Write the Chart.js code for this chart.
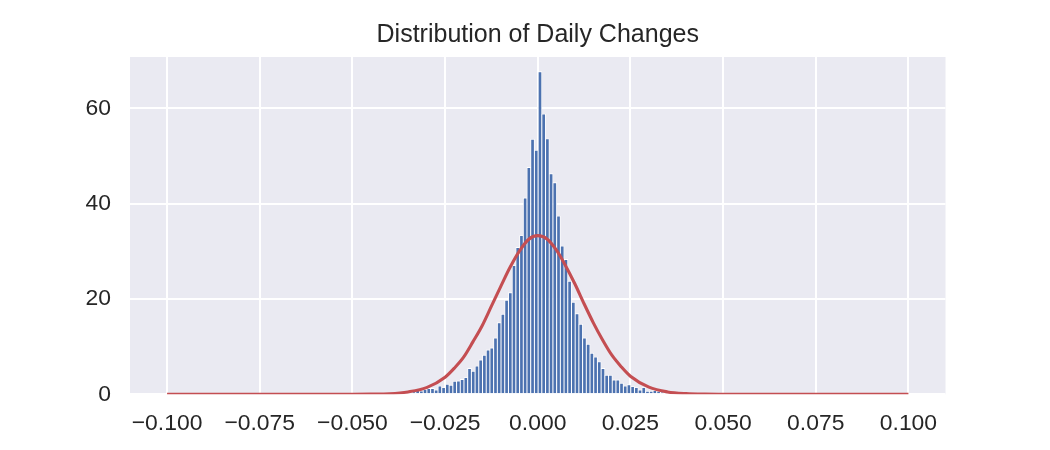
<!DOCTYPE html>
<html>
<head>
<meta charset="utf-8">
<script src="https://cdn.jsdelivr.net/npm/chart.js@4.4.0/dist/chart.umd.min.js"></script>
<style>
html,body{margin:0;padding:0;background:#ffffff;}
#wrap{width:1050px;height:450px;position:relative;}
</style>
</head>
<body>
<div id="wrap"><canvas id="c" width="1050" height="450"></canvas></div>
<script>
const chartTitle = "Distribution of Daily Changes";

// histogram bin centers (bin width 0.001) and density heights
const binCenters = [
  -0.0474,-0.0464,-0.0454,-0.0444,-0.0434,-0.0424,-0.0414,-0.0404,-0.0394,-0.0384,
  -0.0374,-0.0364,-0.0354,-0.0344,-0.0334,-0.0324,-0.0314,-0.0304,-0.0294,-0.0284,
  -0.0274,-0.0264,-0.0254,-0.0244,-0.0234,-0.0224,-0.0214,-0.0204,-0.0194,-0.0184,
  -0.0174,-0.0164,-0.0154,-0.0144,-0.0134,-0.0124,-0.0114,-0.0104,-0.0094,-0.0084,
  -0.0074,-0.0064,-0.0054,-0.0044,-0.0034,-0.0024,-0.0014,-0.0004,
  0.0006,0.0016,0.0026,0.0036,0.0046,0.0056,0.0066,0.0076,0.0086,0.0096,
  0.0106,0.0116,0.0126,0.0136,0.0146,0.0156,0.0166,0.0176,0.0186,0.0196,
  0.0206,0.0216,0.0226,0.0236,0.0246,0.0256,0.0266,0.0276,0.0286,0.0296,
  0.0306,0.0316,0.0326,0.0336,0.0346,0.0356,0.0366,0.0376,0.0386,0.0396,
  0.0406,0.0416,0.0426,0.0436,0.0446,0.0456,0.0466
];
const binDensity = [
  0.3,0,0,0,0,0,0,0.3,0.3,0,
  0.3,0.5,0.3,0.5,0.6,0.9,0.8,1.1,1.3,1.3,
  1.0,1.8,1.5,2.2,2.0,2.8,2.9,3.2,3.6,5.5,
  4.9,6.0,7.3,8.3,9.4,9.8,11.9,15.1,16.9,19.8,
  21.4,27.1,30.9,33.4,41.3,47.7,53.6,51.3,
  67.8,58.9,53.7,46.4,44.5,37.5,31.2,28.4,23.8,19.4,
  17.0,14.8,11.9,10.6,8.7,7.9,6.9,5.5,4.1,4.1,
  3.1,3.1,2.4,1.8,2.1,1.7,1.5,1.0,1.5,0.7,
  0.7,0.9,0.7,0.5,0.4,0.3,0.3,0.3,0,0,
  0,0,0,0,0.3,0,0.3
];

// fitted normal curve
const curveX = [-0.1,-0.08,-0.06,-0.05,-0.045,-0.04,-0.035,-0.03,-0.025,-0.0225,-0.02,-0.0175,-0.015,-0.0125,-0.01,-0.0075,-0.005,-0.0025,0,
                0.0025,0.005,0.0075,0.01,0.0125,0.015,0.0175,0.02,0.0225,0.025,0.03,0.035,0.04,0.045,0.05,0.06,0.08,0.1];
const curveY = [0,0,0,0.01,0.04,0.12,0.5,1.4,3.6,5.5,7.8,11.0,14.4,18.5,22.6,26.6,30.0,32.5,33.3,
                32.6,30.3,27.0,23.2,19.0,15.0,11.4,8.2,5.8,3.8,1.5,0.5,0.14,0.03,0.01,0,0,0];

const xTickValues = [-0.1,-0.075,-0.05,-0.025,0,0.025,0.05,0.075,0.1];
const yTickValues = [0,20,40,60];

const FONT = "'Liberation Sans', Arial, 'DejaVu Sans', sans-serif";
const TEXT = '#262626';

const histPoints = binCenters.map((x, i) => ({x: x, y: binDensity[i]}));
const curvePoints = curveX.map((x, i) => ({x: x, y: curveY[i]}));

const bgPlugin = {
  id: 'bg',
  beforeDraw(chart) {
    const {ctx, chartArea: a} = chart;
    ctx.save();
    ctx.fillStyle = '#EAEAF2';
    ctx.fillRect(a.left, a.top, a.right - a.left, a.bottom - a.top);
    ctx.restore();
  },
  afterDraw(chart) {
    const {ctx, chartArea: a} = chart;
    ctx.save();
    ctx.fillStyle = TEXT;
    ctx.font = "25px " + FONT;
    ctx.textAlign = 'center';
    ctx.textBaseline = 'middle';
    ctx.fillText(chartTitle, (a.left + a.right) / 2, 35);
    ctx.restore();
  }
};

new Chart(document.getElementById('c'), {
  type: 'bar',
  data: {
    datasets: [
      {
        type: 'line',
        data: curvePoints,
        borderColor: '#C44E52',
        borderWidth: 3.1,
        pointRadius: 0,
        fill: false,
        cubicInterpolationMode: 'monotone',
        order: 0
      },
      {
        type: 'bar',
        data: histPoints,
        backgroundColor: '#4C72B0',
        borderColor: '#ffffff',
        borderWidth: 0.9,
        borderSkipped: 'start',
        barPercentage: 1.2,
        categoryPercentage: 1.0,
        order: 1
      }
    ]
  },
  options: {
    responsive: false,
    animation: false,
    devicePixelRatio: 1,
    layout: {padding: {left: 0, right: 104.5, top: 57, bottom: 0}},
    plugins: {legend: {display: false}, tooltip: {enabled: false}, title: {display: false}},
    scales: {
      x: {
        type: 'linear',
        offset: false,
        min: -0.11,
        max: 0.11,
        afterBuildTicks: (s) => { s.ticks = xTickValues.map(v => ({value: v})); },
        afterFit: (s) => { s.height = 55.7; },
        grid: {color: '#ffffff', lineWidth: 2, drawTicks: false, offset: false},
        border: {display: false},
        ticks: {
          padding: 16,
          color: TEXT,
          font: {family: FONT, size: 22.9},
          maxRotation: 0,
          autoSkip: false,
          callback: (v) => (v < 0 ? '\u2212' : '') + Math.abs(v).toFixed(3)
        }
      },
      y: {
        min: 0,
        max: 70.8,
        afterBuildTicks: (s) => { s.ticks = yTickValues.map(v => ({value: v})); },
        afterFit: (s) => { s.width = 130; },
        grid: {color: '#ffffff', lineWidth: 2, drawTicks: false},
        border: {display: false},
        ticks: {
          padding: 19,
          color: TEXT,
          font: {family: FONT, size: 22.9},
          callback: (v) => String(v)
        }
      }
    }
  },
  plugins: [bgPlugin]
});
</script>
</body>
</html>
